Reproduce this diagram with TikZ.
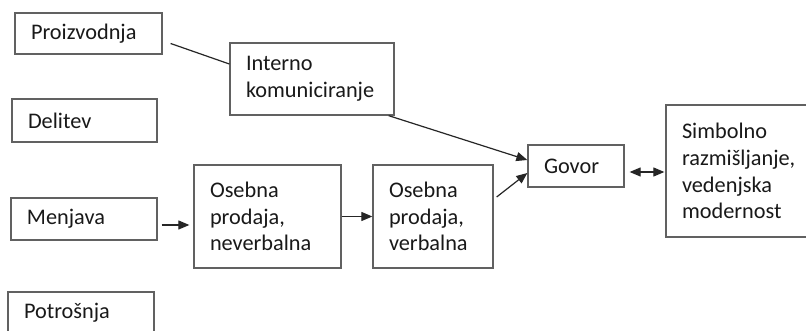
\documentclass[tikz,border=0pt]{standalone}
\usepackage{fontspec}
\setmainfont{Carlito}
\usetikzlibrary{arrows.meta}
\tikzset{
  box/.style={draw=black!62, line width=1.3pt, rectangle, align=left,
    inner xsep=16pt, inner ysep=0pt, text=black!90,
    font=\fontsize{22.3}{26.8}\selectfont},
  conn/.style={draw=black!85, line width=1.2pt},
  arr/.style={conn, -{Triangle[length=11pt,width=9pt]}},
  darr/.style={conn, {Triangle[length=11pt,width=9pt]}-{Triangle[length=11pt,width=9pt]}}
}
\newcommand{\bx}[7]{\node[box, text width=#4pt-32pt, minimum height=#5pt] (#1) at (#2,#3) {#6};}
\begin{document}
\begin{tikzpicture}[x=1pt,y=-1pt]
\useasboundingbox (0,0) rectangle (806,331);
\fill[white] (0,0) rectangle (806,331);
\clip (0,0) rectangle (806,331);
\bx{proiz}{88.5}{33.5}{147}{41}{Proizvodnja}{}
\bx{delitev}{84.5}{120.5}{145}{43}{Delitev}{}
\bx{menjava}{84}{219}{146}{42}{Menjava}{}
\bx{potrosnja}{81}{313}{146}{42}{Potrošnja}{}
\bx{interno}{312}{79}{164}{72}{Interno\\komuniciranje}{}
\bx{never}{267.5}{216.5}{147}{103}{Osebna\\prodaja,\\neverbalna}{}
\bx{verbal}{433}{216.5}{120}{103}{Osebna\\prodaja,\\verbalna}{}
\bx{govor}{576}{166}{96}{42}{Govor}{}
\bx{simbol}{741}{171}{150}{132}{Simbolno\\razmišljanje,\\vedenjska\\modernost}{}
\draw[conn] ([shift={(8,10)}]proiz.east) -- ([shift={(0,-15)}]interno.west);
\draw[arr] ([shift={(-6,0)}]interno.south east) -- ([shift={(0,-6)}]govor.west);
\draw[arr] ([shift={(3,-19.5)}]verbal.east) -- ([shift={(0,7)}]govor.west);
\draw[darr] ([shift={(5,6)}]govor.east) -- ([shift={(-1,1)}]simbol.west);
\draw[arr] ([shift={(4,6)}]menjava.east) -- ([shift={(-4,8.5)}]never.west);
\draw[arr] (never.east) -- (verbal.west);
\end{tikzpicture}
\end{document}
